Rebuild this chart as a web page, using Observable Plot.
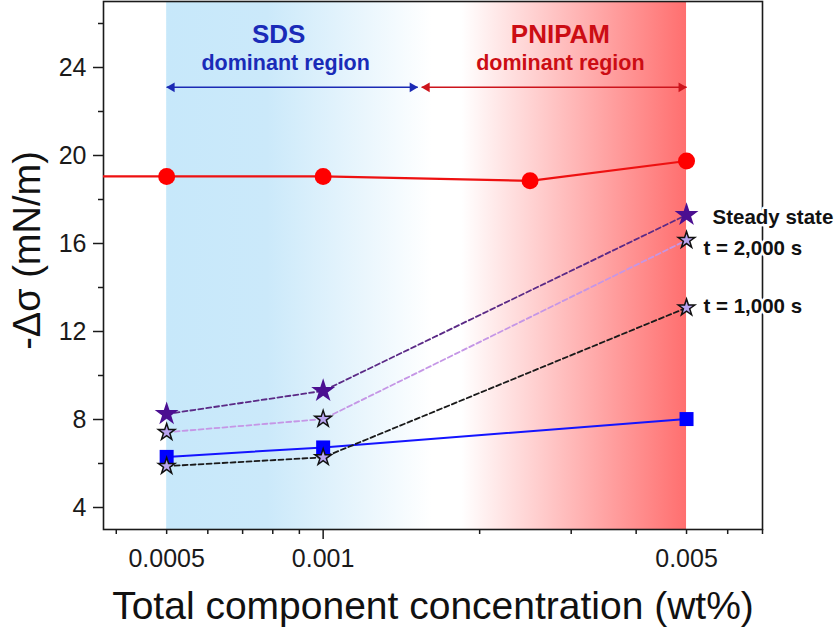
<!DOCTYPE html>
<html><head><meta charset="utf-8">
<script src="https://cdn.jsdelivr.net/npm/d3@7"></script>
<script src="https://cdn.jsdelivr.net/npm/@observablehq/plot@0.6"></script>
<style>body{margin:0;background:#fff}</style>
</head><body><div id="chart"></div>
<script>
// ---- data ----
const conc = [0.0005, 0.001, 0.005];                       // wt%
const pnipamConc = [0.0003, 0.0005, 0.001, 0.0025, 0.005];  // red series (line enters from left edge)
const pnipam = [19.05, 19.05, 19.05, 18.85, 19.75];
const sds = [6.3, 6.73, 8.02];
const steadyState = [8.25, 9.3, 17.3];
const t2000 = [7.42, 8.02, 16.15];
const t1000 = [5.88, 6.28, 13.08];

const xTickLabels = [0.0005, 0.001, 0.005];
const xMinorTicks = [0.0004, 0.0005, 0.0006, 0.0007, 0.0008, 0.0009, 0.002, 0.003, 0.004, 0.005, 0.006, 0.007];
const xMajorTicks = [0.001];
const yTicks = [4, 8, 12, 16, 20, 24];
const yMinorTicks = [6, 10, 14, 18, 22, 26];

const regionNames = ["SDS", "PNIPAM"];
const regionStart = [0.0005, 0.00185];
const regionEnd = [0.00162, 0.005];
const regionGradient = ["url(#gradSDS)", "url(#gradPNIPAM)"];

const arrowStart = [0.0005, 0.001547];
const arrowEnd = [0.00152, 0.005];
const arrowLevel = 23.1;
const arrowColors = ["#1b2ab4", "#cc141c"];

const regionTitleX = [0.000821, 0.00286];
const regionSubX = [0.000847, 0.00286];
const regionTitleColor = ["#1a2bb8", "#cc0d14"];
const regionTitleY = 25.5;
const regionSubY = 24.2;

const seriesLabels = ["Steady state", "t = 2,000 s", "t = 1,000 s"];
const seriesLabelY = [17.2, 15.78, 13.15];
const seriesLabelDx = [26, 17, 17];

const xTitle = "Total component concentration (wt%)";
const yTitle = "-\u0394\u03c3 (mN/m)";

// ---- tables built from the arrays ----
const pts = (xs, ys) => xs.map((x, i) => ({x, y: ys[i]}));
const pnipamData = pts(pnipamConc, pnipam);
const sdsData = pts(conc, sds);
const steadyData = pts(conc, steadyState);
const t2000Data = pts(conc, t2000);
const t1000Data = pts(conc, t1000);
const regions = regionNames.map((n, i) => ({n, x1: regionStart[i], x2: regionEnd[i], fill: regionGradient[i]}));
const arrows = arrowStart.map((x1, i) => ({x1, x2: arrowEnd[i], y: arrowLevel, c: arrowColors[i]}));
const leftHeads = arrows.map(a => ({x: a.x1, y: a.y, c: a.c}));
const rightHeads = arrows.map(a => ({x: a.x2, y: a.y, c: a.c}));
const regionTitles = regionNames.map((n, i) => ({x: regionTitleX[i], y: regionTitleY, t: n, c: regionTitleColor[i]}));
const regionSubs = regionNames.map((n, i) => ({x: regionSubX[i], y: regionSubY, t: "dominant region", c: regionTitleColor[i]}));
const labels = seriesLabels.map((t, i) => ({x: conc[2], y: seriesLabelY[i], t, dx: seriesLabelDx[i]}));

function gradients() {
  const defs = d3.create("svg:defs");
  const a = defs.append("linearGradient").attr("id", "gradSDS").attr("x1", 0).attr("x2", 1).attr("y1", 0).attr("y2", 0);
  a.append("stop").attr("offset", "0").attr("stop-color", "#c7e8fa");
  a.append("stop").attr("offset", "0.38").attr("stop-color", "#cbe9fa");
  a.append("stop").attr("offset", "1").attr("stop-color", "#ffffff");
  const b = defs.append("linearGradient").attr("id", "gradPNIPAM").attr("x1", 0).attr("x2", 1).attr("y1", 0).attr("y2", 0);
  b.append("stop").attr("offset", "0").attr("stop-color", "#ffffff");
  b.append("stop").attr("offset", "1").attr("stop-color", "#ff6f6f");
  return defs.node();
}

const font = "'Liberation Sans', Arial, Helvetica, sans-serif";

const chart = Plot.plot({
  width: 840,
  height: 639,
  marginLeft: 103,
  marginRight: 78,
  marginTop: 1,
  marginBottom: 110,
  x: {type: "log", domain: [0.000378, 0.007]},
  y: {domain: [3, 27]},
  style: {fontFamily: font, background: "white", color: "#1a1a1a", overflow: "visible"},
  marks: [
    gradients,
    Plot.rect(regions, {x1: "x1", x2: "x2", fill: "fill"}),
    // axes
    Plot.axisY({ticks: yTicks, tickSize: 10, tickPadding: 7, fontSize: 25, label: null, strokeWidth: 1.5}),
    Plot.axisY({ticks: yMinorTicks, tickSize: 5, tickFormat: () => "", label: null, strokeWidth: 1.5}),
    Plot.axisX({ticks: xTickLabels, tickSize: 0, tickPadding: 20, fontSize: 25, tickFormat: d => String(d), label: null}),
    Plot.axisX({ticks: xMinorTicks, tickSize: 5, tickFormat: () => "", label: null, strokeWidth: 1.5}),
    Plot.axisX({ticks: xMajorTicks, tickSize: 10, tickFormat: () => "", label: null, strokeWidth: 1.5}),
    Plot.frame({stroke: "#1a1a1a", strokeWidth: 1.6}),
    // region annotations
    Plot.link(arrows, {x1: "x1", x2: "x2", y1: "y", y2: "y", stroke: "c", strokeWidth: 1.6}),
    Plot.dot(leftHeads, {x: "x", y: "y", fill: "c", symbol: "triangle", r: 3.6, rotate: -90, dx: 5.2}),
    Plot.dot(rightHeads, {x: "x", y: "y", fill: "c", symbol: "triangle", r: 3.6, rotate: 90, dx: -5.2}),
    Plot.text(regionTitles, {x: "x", y: "y", text: "t", fill: "c", fontSize: 26, fontWeight: "bold"}),
    Plot.text(regionSubs, {x: "x", y: "y", text: "t", fill: "c", fontSize: 21.5, fontWeight: "bold"}),
    // series lines
    Plot.line(pnipamData, {x: "x", y: "y", stroke: "#ee1111", strokeWidth: 2.2, clip: true}),
    Plot.line(sdsData, {x: "x", y: "y", stroke: "#1414ff", strokeWidth: 2}),
    Plot.line(steadyData, {x: "x", y: "y", stroke: "#5b2a86", strokeWidth: 1.8, strokeDasharray: "5,3"}),
    Plot.line(t2000Data, {x: "x", y: "y", stroke: "#c596e6", strokeWidth: 1.8, strokeDasharray: "5,3"}),
    Plot.line(t1000Data, {x: "x", y: "y", stroke: "#1a1a1a", strokeWidth: 1.8, strokeDasharray: "5,3"}),
    // markers
    Plot.dot(pnipamData, {x: "x", y: "y", r: 8.5, fill: "#ff0000", clip: true}),
    Plot.dot(sdsData, {x: "x", y: "y", symbol: "square", r: 7.9, fill: "#0000ff"}),
    Plot.dot(steadyData, {x: "x", y: "y", symbol: "star", r: 7.5, fill: "#4b0f91"}),
    Plot.dot(t2000Data, {x: "x", y: "y", symbol: "star", r: 5.2, fill: "#b9a4f0", stroke: "#111", strokeWidth: 1.5}),
    Plot.dot(t1000Data, {x: "x", y: "y", symbol: "star", r: 5.2, fill: "#b9a4f0", stroke: "#111", strokeWidth: 1.5}),
    // series labels
    ...labels.map(l => Plot.text([l], {x: "x", y: "y", text: "t", dx: l.dx, textAnchor: "start", fontSize: 20.5, fontWeight: "bold", fill: "#111", stroke: "white", strokeWidth: 5})),
    // axis titles
    Plot.text([xTitle], {frameAnchor: "bottom", dy: 77, text: d => d, fontSize: 39, fill: "#111", textAnchor: "middle", lineAnchor: "middle"}),
    Plot.text([yTitle], {frameAnchor: "left", textAnchor: "middle", lineAnchor: "middle", dx: -76, dy: -15, rotate: -90, text: d => d, fontSize: 38, fill: "#111"})
  ]
});
document.getElementById("chart").append(chart);
</script>
</body></html>
